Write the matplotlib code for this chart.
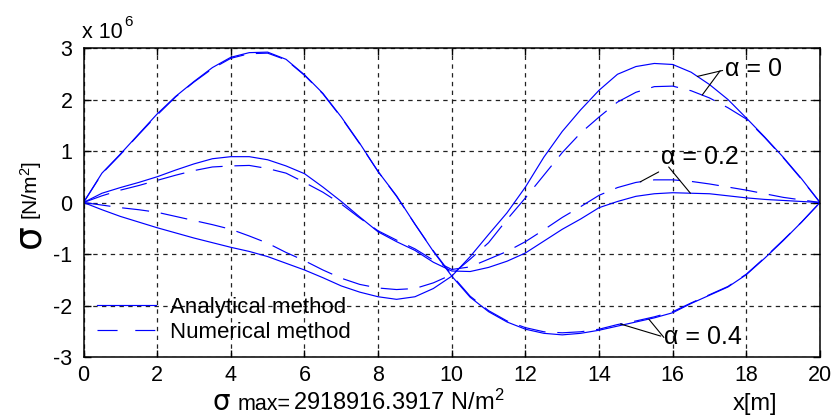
import numpy as np
import matplotlib
matplotlib.use("Agg")
import matplotlib.pyplot as plt
from matplotlib.lines import Line2D

plt.rcParams['font.family'] = ['Liberation Sans', 'DejaVu Sans']
plt.rcParams['axes.unicode_minus'] = False
plt.rcParams['mathtext.fontset'] = 'custom'
plt.rcParams['mathtext.rm'] = 'Liberation Sans'
plt.rcParams['mathtext.default'] = 'regular'

# x positions [m]
x = np.arange(0, 20.5, 0.5)

# stresses in units of 10^6 N/m^2
# alpha = 0.4
a04_analytical = [0, 0.57, 0.94, 1.33, 1.72, 2.06, 2.35, 2.62, 2.82, 2.91, 2.92, 2.78, 2.48, 2.12,
                  1.66, 1.15, 0.60, 0.13, -0.42, -0.95, -1.43, -1.84, -2.12, -2.32, -2.46, -2.54,
                  -2.57, -2.54, -2.48, -2.40, -2.32, -2.24, -2.14, -1.96, -1.80, -1.64, -1.40,
                  -1.08, -0.74, -0.38, 0]
a04_numerical = [0, 0.56, 0.93, 1.32, 1.70, 2.05, 2.34, 2.60, 2.80, 2.89, 2.90, 2.77, 2.47, 2.11,
                 1.65, 1.14, 0.60, 0.12, -0.42, -0.94, -1.41, -1.82, -2.10, -2.30, -2.43, -2.51,
                 -2.53, -2.51, -2.46, -2.37, -2.30, -2.22, -2.12, -1.95, -1.79, -1.63, -1.39,
                 -1.07, -0.73, -0.38, 0]
# alpha = 0
a0_analytical = [0, -0.14, -0.27, -0.38, -0.49, -0.59, -0.69, -0.78, -0.87, -0.95, -1.05, -1.18,
                 -1.31, -1.46, -1.62, -1.74, -1.83, -1.88, -1.83, -1.67, -1.43, -1.05, -0.62,
                 -0.20, 0.30, 0.88, 1.38, 1.80, 2.18, 2.49, 2.64, 2.70, 2.68, 2.53, 2.29, 2.00,
                 1.64, 1.27, 0.88, 0.46, 0]
a0_numerical = [0, -0.05, -0.10, -0.14, -0.19, -0.27, -0.35, -0.43, -0.52, -0.65, -0.79, -0.97,
                -1.13, -1.31, -1.47, -1.59, -1.66, -1.69, -1.67, -1.56, -1.40, -1.10, -0.78,
                -0.33, 0.09, 0.53, 0.97, 1.35, 1.66, 1.95, 2.14, 2.25, 2.26, 2.17, 2.03, 1.84,
                1.62, 1.26, 0.87, 0.45, 0]
# alpha = 0.2
a02_analytical = [0, 0.18, 0.29, 0.39, 0.50, 0.63, 0.75, 0.85, 0.89, 0.89, 0.83, 0.71, 0.56, 0.30,
                  0.02, -0.28, -0.57, -0.76, -0.93, -1.16, -1.33, -1.34, -1.26, -1.14, -0.98,
                  -0.75, -0.52, -0.32, -0.10, 0.02, 0.12, 0.17, 0.19, 0.18, 0.17, 0.13, 0.09,
                  0.06, 0.04, 0.02, 0]
a02_numerical = [0, 0.13, 0.24, 0.33, 0.43, 0.53, 0.62, 0.69, 0.71, 0.72, 0.66, 0.57, 0.39, 0.20,
                 -0.03, -0.30, -0.55, -0.73, -0.90, -1.12, -1.30, -1.25, -1.10, -0.95, -0.76,
                 -0.53, -0.29, -0.08, 0.14, 0.29, 0.39, 0.44, 0.44, 0.41, 0.36, 0.30, 0.24,
                 0.17, 0.10, 0.05, 0]

xticks = [0, 2, 4, 6, 8, 10, 12, 14, 16, 18, 20]
yticks = [-3, -2, -1, 0, 1, 2, 3]

blue = '#0000ff'
lw = 0.85
dash_plot = (23, 10)

fig = plt.figure(figsize=(8.32, 4.16), dpi=100)
ax = fig.add_axes([0.1004, 0.1418, 0.8852, 0.7428])

pairs = [(a0_analytical, a0_numerical),
         (a02_analytical, a02_numerical),
         (a04_analytical, a04_numerical)]
for sol, num in pairs:
    ax.plot(x, sol, color=blue, lw=lw, solid_joinstyle='round')
    ax.plot(x, num, color=blue, lw=lw, dashes=dash_plot)

ax.set_xlim(0, 20)
ax.set_ylim(-3, 3)
ax.set_xticks(xticks)
ax.set_yticks(yticks)
ax.set_xticklabels([str(t) for t in xticks])
ax.set_yticklabels([str(t) for t in yticks])
ax.tick_params(direction='in', length=5, width=1, labelsize=15.5, top=True, right=True,
               pad=6, colors='black')
ax.tick_params(axis='y', pad=8)
ax.grid(True, color='#222222', lw=0.9, dashes=(3.5, 3.5))
for s in ax.spines.values():
    s.set_linewidth(1.1)
    s.set_color('black')

# legend
handles = [Line2D([], [], color=blue, lw=lw),
           Line2D([], [], color=blue, lw=lw, dashes=(17, 15))]
ax.legend(handles, ['Analytical method', 'Numerical method'], loc='upper left',
          bbox_to_anchor=(0.018, 0.195), frameon=False, fontsize=16, handlelength=2.65,
          handletextpad=0.65, borderpad=0, borderaxespad=0, labelspacing=0.2)

# annotations
ann = dict(arrowstyle='-', color='black', lw=0.8, shrinkA=0, shrinkB=0)
fs_a = 18
ax.annotate('\u03b1 = 0', xy=(16.67, np.interp(16.67, x, a0_analytical)), xytext=(17.43, 2.60),
            fontsize=fs_a, ha='left', va='center', arrowprops=dict(ann, relpos=(0, 0.45)))
ax.annotate('', xy=(16.8, np.interp(16.8, x, a0_numerical)), xytext=(17.29, 2.56),
            arrowprops=ann)
ax.annotate('\u03b1 = 0.2', xy=(15.12, np.interp(15.12, x, a02_numerical)), xytext=(15.67, 0.88),
            fontsize=fs_a, ha='left', va='center', arrowprops=dict(ann, relpos=(0.1, 0.1)))
ax.annotate('', xy=(16.48, np.interp(16.48, x, a02_analytical)), xytext=(15.89, 0.69),
            arrowprops=ann)
ax.annotate('\u03b1 = 0.4', xy=(14.58, np.interp(14.58, x, a04_numerical)), xytext=(15.75, -2.61),
            fontsize=fs_a, ha='left', va='center', arrowprops=dict(ann, relpos=(0, 0.5)))
ax.annotate('', xy=(15.35, np.interp(15.35, x, a04_analytical)), xytext=(15.76, -2.62),
            arrowprops=ann)

W, H = 832, 416
def fx(px):
    return px / W
def fy(py):
    return 1 - py / H

fig.text(fx(82), fy(38), 'x 10', fontsize=15.5, ha='left', va='baseline')
fig.text(fx(124), fy(26), '6', fontsize=11, ha='left', va='baseline')
fig.text(fx(29), fy(236), '\u03c3', fontsize=27, rotation=90, ha='center', va='center',
         family='DejaVu Sans')
fig.text(fx(31), fy(190), r'[N/m$^{2}$]', fontsize=15, rotation=90, ha='center', va='center')
fig.text(fx(213), fy(410), '\u03c3', fontsize=20, ha='left', va='baseline', family='DejaVu Sans')
fig.text(fx(238), fy(410), 'max=', fontsize=15.5, ha='left', va='baseline')
fig.text(fx(293), fy(410), r'2918916.3917 N/m$^{2}$', fontsize=17, ha='left', va='baseline')
fig.text(fx(733), fy(410), 'x[m]', fontsize=17, ha='left', va='baseline')

fig.savefig('out.png', dpi=100)
